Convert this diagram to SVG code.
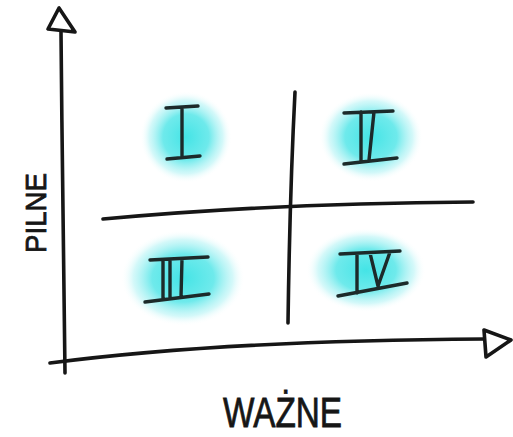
<svg xmlns="http://www.w3.org/2000/svg" width="513" height="437" viewBox="0 0 513 437">
  <style>
    .ink{fill:none;stroke:#161616;stroke-width:3.6;stroke-linecap:round;stroke-linejoin:round}
    .num{fill:none;stroke:#1c2a2a;stroke-width:3.4;stroke-linecap:round;stroke-linejoin:round}
    .lbl{font-family:"Liberation Sans",Arial,sans-serif;fill:#161616;stroke:#161616;stroke-width:0.8}
  </style>
  <defs>
    <radialGradient id="glow">
      <stop offset="0" stop-color="#44e4e6" stop-opacity="1"/>
      <stop offset="0.5" stop-color="#55e6e8" stop-opacity="0.85"/>
      <stop offset="0.8" stop-color="#9ef0f2" stop-opacity="0.45"/>
      <stop offset="1" stop-color="#ffffff" stop-opacity="0"/>
    </radialGradient>
  </defs>
  <rect width="513" height="437" fill="#ffffff"/>

  <g id="axes">
    <path class="ink" d="M61,32 C62,150 64,280 65,373"/>
    <path class="ink" d="M59,8 L48,29 L75,32 Z"/>
    <path class="ink" d="M50,363 C150,350 300,340 484,339"/>
    <path class="ink" d="M484,330 L486,357 L511,340 Z"/>
  </g>

  <g id="grid">
    <path class="ink" d="M295,92 C291,170 289,250 288,323"/>
    <path class="ink" d="M103,219 C200,210 330,203 473,202"/>
  </g>

  <g id="q1">
    <ellipse cx="186" cy="137" rx="46" ry="46" fill="url(#glow)"/>
    <path class="num" d="M166,108 L198,106 M182,107 L182,157 M167,159 L200,156"/>
  </g>
  <g id="q2">
    <ellipse cx="371" cy="137" rx="52" ry="45" fill="url(#glow)"/>
    <path class="num" d="M344,113 L393,111 M361,112 L361,161 M374,112 L369,160 M344,164 L397,158"/>
  </g>
  <g id="q3">
    <ellipse cx="183" cy="278" rx="62" ry="48" fill="url(#glow)"/>
    <path class="num" d="M150,260 L208,257 M163,260 L163,299 M170,259 L170,298 M182,259 L181,297 M145,302 L209,294"/>
  </g>
  <g id="q4">
    <ellipse cx="366" cy="270" rx="60" ry="42" fill="url(#glow)"/>
    <path class="num" d="M340,254 L400,251 M357,254 L357,293 M370,253 L378,286 L390,252 M338,296 L407,283"/>
  </g>

  <g id="labels">
    <text class="lbl" transform="translate(46,213) rotate(-90)" text-anchor="middle" font-size="30" textLength="80" lengthAdjust="spacingAndGlyphs">PILNE</text>
    <text class="lbl" x="223" y="427" font-size="42" textLength="119" lengthAdjust="spacingAndGlyphs">WAŻNE</text>
  </g>
</svg>
